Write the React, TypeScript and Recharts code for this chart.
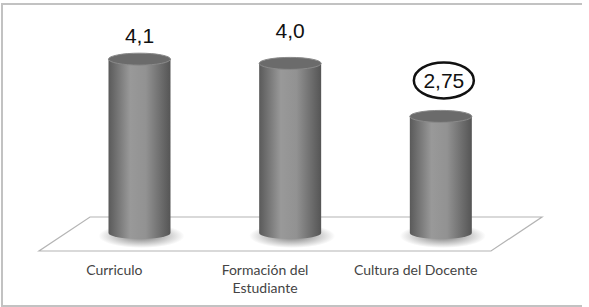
import React from 'react';
import { BarChart, Bar, XAxis, YAxis, ReferenceArea } from 'recharts';

const CATEGORIES = ['Curriculo', 'Formación del Estudiante', 'Cultura del Docente'];
const VALUES = [4.1, 4.0, 2.75];
const TICK_LABELS = [['Curriculo'], ['Formación del', 'Estudiante'], ['Cultura del Docente']];
const HIGHLIGHTED = ['Cultura del Docente'];

const data = CATEGORIES.map((name, i) => ({ name, value: VALUES[i] }));

// label lift above the top of each cylinder (the original is not consistent)
const LABEL_LIFT = [24, 33, 36];
const SKEW = 25.5;

const fmt = (v: number) => (Number.isInteger(v) ? v.toFixed(1) : String(v)).replace('.', ',');

const Cylinder = (props: any) => {
  const { x, y, width, height, index, payload } = props;
  const rx = width / 2;
  const ry = 6;
  const cx = x + rx;
  const yb = y + height;
  const gid = `body-${index}`;
  const sid = `shadow-${index}`;
  const ly = y - LABEL_LIFT[index];
  const hi = HIGHLIGHTED.includes(payload.name);
  return (
    <g>
      <defs>
        <linearGradient id={gid} x1="0" y1="0" x2="1" y2="0">
          <stop offset="0%" stopColor="#5a5a5a" />
          <stop offset="35%" stopColor="#999999" />
          <stop offset="60%" stopColor="#929292" />
          <stop offset="100%" stopColor="#555555" />
        </linearGradient>
        <radialGradient id={sid} cx="50%" cy="50%" r="50%">
          <stop offset="0%" stopColor="#3a3a3a" stopOpacity={0.7} />
          <stop offset="100%" stopColor="#3a3a3a" stopOpacity={0} />
        </radialGradient>
      </defs>
      <ellipse cx={cx + 2} cy={yb + 3} rx={rx + 12} ry={ry + 6} fill={`url(#${sid})`} />
      <path
        d={`M${x},${y} L${x},${yb} A${rx},${ry} 0 0 0 ${x + width},${yb} L${x + width},${y} Z`}
        fill={`url(#${gid})`}
      />
      <ellipse cx={cx} cy={y} rx={rx} ry={ry} fill="#6b6b6b" stroke="#8a8a8a" strokeWidth={1} />
      {hi && <ellipse cx={cx + 3} cy={ly} rx={30} ry={18} fill="#fff" stroke="#111" strokeWidth={2.5} />}
      <text
        x={cx + (hi ? 3 : 0)}
        y={ly}
        dy="0.36em"
        textAnchor="middle"
        fontFamily="Liberation Sans, Arial, sans-serif"
        fontSize={21}
        fill="#111"
      >
        {fmt(payload.value)}
      </text>
    </g>
  );
};

const Floor = (props: any) => {
  const { x, y, width, height } = props;
  const d = `M${x + SKEW},${y} L${x + width + SKEW},${y} L${x + width - SKEW},${y + height} L${x - SKEW},${y + height} Z`;
  return <path d={d} fill="#fff" stroke="#b4b4b4" strokeWidth={1.2} />;
};

const CategoryTick = (props: any) => {
  const { x, y, index } = props;
  const lines = TICK_LABELS[index] || [];
  return (
    <text
      x={x - SKEW}
      y={y}
      textAnchor="middle"
      fontFamily="Lato, 'Open Sans', sans-serif"
      fontSize={14}
      fill="#444"
    >
      {lines.map((l: string, i: number) => (
        <tspan key={i} x={x - SKEW} dy={i === 0 ? 16 : 18}>
          {l}
        </tspan>
      ))}
    </text>
  );
};

export default function App() {
  return (
    <div style={{ position: 'absolute', left: 0, top: 0, width: 589, height: 307, background: '#fff' }}>
      <div
        style={{
          position: 'absolute',
          left: 1,
          top: 3,
          width: 579,
          height: 300,
          borderTop: '2px solid #c2c2c2',
          borderLeft: '2px solid #c2c2c2',
          borderBottom: '2px solid #c2c2c2',
        }}
      />
      <div style={{ position: 'absolute', left: 0, top: 0 }}>
        <BarChart
          width={589}
          height={307}
          data={data}
          margin={{ top: 21, right: 72.5, left: 64.5, bottom: 0 }}
          barSize={62}
        >
          <XAxis dataKey="name" axisLine={false} tickLine={false} height={56} tick={<CategoryTick />} interval={0} />
          <YAxis hide domain={[-0.425, 5]} allowDataOverflow type="number" />
          <ReferenceArea y1={-0.425} y2={0.377} shape={<Floor />} ifOverflow="visible" />
          <Bar dataKey="value" isAnimationActive={false} shape={<Cylinder />} />
        </BarChart>
      </div>
    </div>
  );
}
